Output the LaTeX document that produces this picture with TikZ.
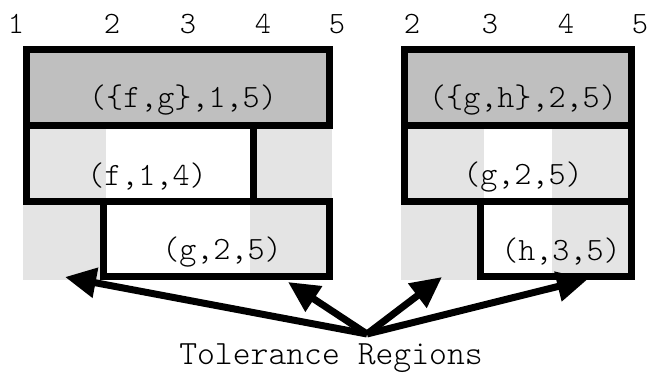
\documentclass[tikz,border=0pt]{standalone}
\usepackage{fontspec}
\newfontfamily\lightmono{lmmonolt10-regular.otf}
\usetikzlibrary{arrows.meta}
\definecolor{darkfill}{gray}{0.75}
\definecolor{lightfill}{gray}{0.895}
\tikzset{
  border/.style={line width=7pt},
  lbl/.style={font=\lightmono\fontsize{32.5}{34}\selectfont, inner sep=0pt},
  bigl/.style={font=\lightmono\fontsize{34}{36}\selectfont, inner sep=0pt},
  axis/.style={font=\lightmono\fontsize{31}{34}\selectfont, inner sep=0pt},
  pointer/.style={line width=7pt, -{Triangle[length=31pt,width=29pt]}, shorten >=0pt}
}
\begin{document}
\begin{tikzpicture}[x=1pt,y=-1pt]
\useasboundingbox (0,0) rectangle (649,375);
% ---------- left group ----------
\fill[darkfill] (26.5,49.5) rectangle (329,125.5);
\fill[lightfill] (26.5,125.5) rectangle (106,201);
\fill[lightfill] (253.5,125.5) rectangle (332,201);
\fill[lightfill] (23,201) rectangle (103,280);
\fill[lightfill] (250,201) rectangle (329,276.5);
\draw[border] (26.5,49.5) rectangle (329,125.5);
\draw[border] (26.5,125.5) rectangle (253.5,201);
\draw[border] (103,201) rectangle (329,276.5);
% ---------- right group ----------
\fill[darkfill] (404.5,49.5) rectangle (631,125.5);
\fill[lightfill] (404.5,125.5) rectangle (484,201);
\fill[lightfill] (552,125.5) rectangle (631,201);
\fill[lightfill] (401,201) rectangle (480.5,280);
\fill[lightfill] (552,201) rectangle (631,276.5);
\draw[border] (404.5,49.5) rectangle (631,125.5);
\draw[border] (404.5,125.5) rectangle (631,201);
\draw[border] (480.5,201) rectangle (631,276.5);
% ---------- axis labels ----------
\node[axis] (l1) at (16,24) {1};
\node[axis] (l2) at (112,24) {2};
\node[axis] (l3) at (188,24) {3};
\node[axis] (l4) at (263,24) {4};
\node[axis] (l5) at (337,24) {5};
\node[axis] (r2) at (412,24) {2};
\node[axis] (r3) at (490,24) {3};
\node[axis] (r4) at (566,24) {4};
\node[axis] (r5) at (640,24) {5};
% ---------- box labels ----------
\node[lbl] (fg) at (183,100) {(\{f,g\},1,5)};
\node[lbl] (f14) at (147,177) {(f,1,4)};
\node[lbl] (g25a) at (222,252) {(g,2,5)};
\node[lbl] (gh) at (523,100) {(\{g,h\},2,5)};
\node[lbl] (g25b) at (523,177) {(g,2,5)};
\node[lbl] (h35) at (561,252) {(h,3,5)};
\node[bigl] (tol) at (331,358) {Tolerance Regions};
% ---------- arrows ----------
\coordinate (hub) at (367,334);
\coordinate (t1) at (65,277);
\coordinate (t2) at (288,282);
\coordinate (t3) at (442,277);
\coordinate (t4) at (588,279);
\draw[pointer] (hub) -- (t1);
\draw[pointer] (hub) -- (t2);
\draw[pointer] (hub) -- (t3);
\draw[pointer] (hub) -- (t4);
\end{tikzpicture}
\end{document}
